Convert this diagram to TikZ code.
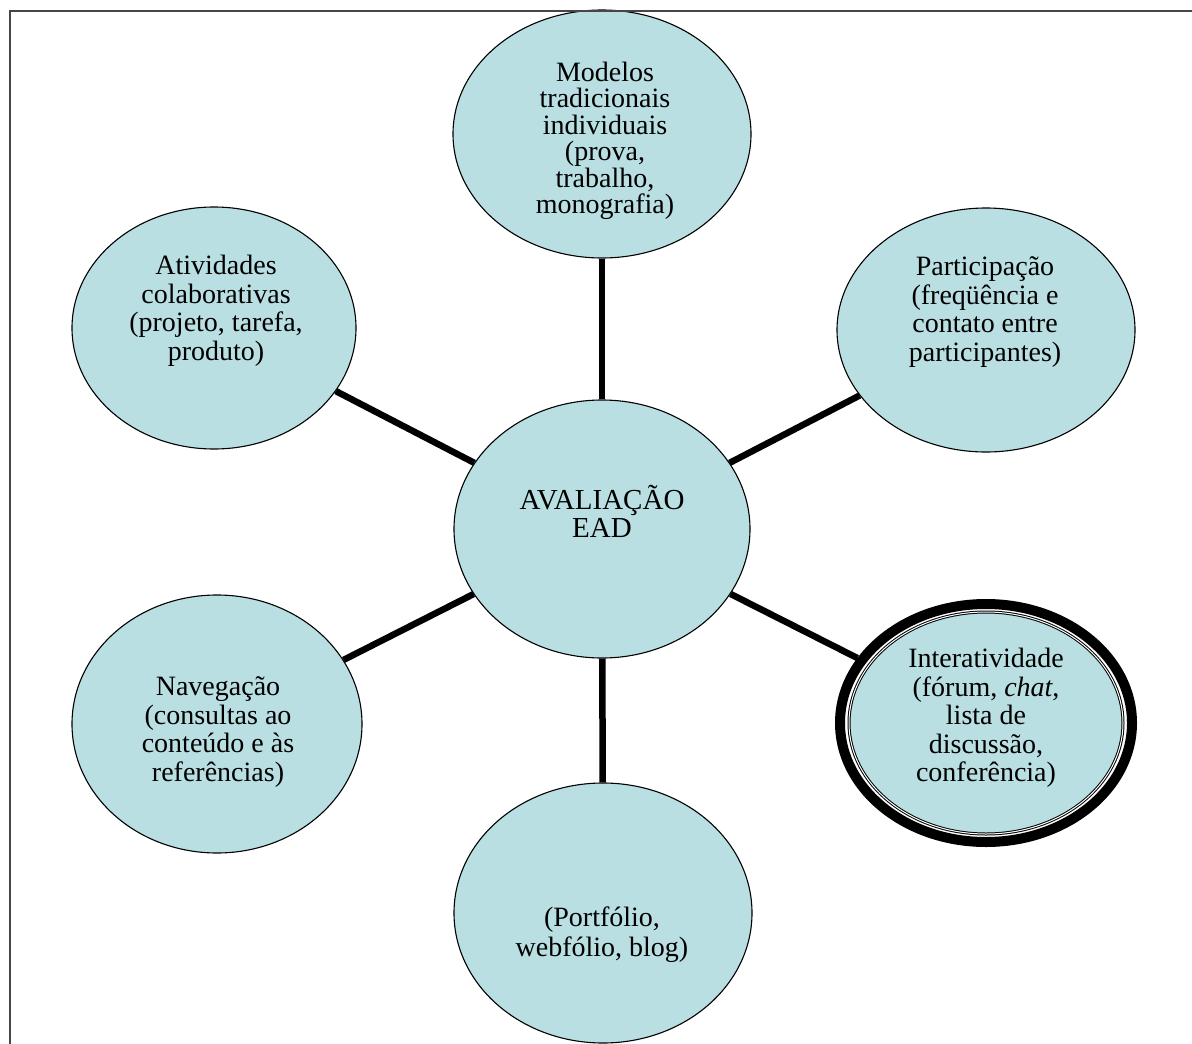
\documentclass[tikz,border=0pt]{standalone}
\usepackage{fontspec}
\setmainfont{Liberation Serif}
\usetikzlibrary{shapes.geometric,backgrounds}
\definecolor{bubfill}{RGB}{185,223,227}
\definecolor{framecol}{RGB}{70,70,70}
\tikzset{
  bub/.style={ellipse, draw=black, line width=1.1pt, fill=bubfill, inner sep=0pt},
  lbl/.style={align=center, font=\fontsize{28}{28.5}\selectfont, inner sep=0pt},
  link/.style={line width=6.5pt, black},
}
\begin{document}
\begin{tikzpicture}[x=1pt,y=-1pt]
\useasboundingbox (0,0) rectangle (1192,1044);
\clip (0,0) rectangle (1192,1044);
% bubbles
\node[bub, minimum width=298pt, minimum height=248pt] (top) at (602,134) {};
\node[bub, minimum width=284pt, minimum height=242pt] (tl) at (214,328) {};
\node[bub, minimum width=298pt, minimum height=244pt] (tr) at (986,330) {};
\node[bub, minimum width=296pt, minimum height=258pt] (ctr) at (602,529) {};
\node[bub, minimum width=290pt, minimum height=258pt] (bl) at (217,724) {};
\node[bub, minimum width=298pt, minimum height=260pt] (bot) at (603,913) {};
% special bubble with thick compound border
\node[ellipse, draw=black, line width=10pt, fill=white, inner sep=0pt,
      minimum width=292pt, minimum height=238pt] (br) at (986,723) {};
\node[ellipse, draw=black, line width=1pt, double=white, double distance=1pt,
      fill=bubfill, inner sep=0pt,
      minimum width=274pt, minimum height=222pt] (brin) at (986,723) {};
% connectors
\begin{pgfonlayer}{background}
\draw[link] (ctr) -- (top);
\draw[link] (ctr) -- (tl);
\draw[link] (ctr) -- (tr);
\draw[link] (ctr) -- (bl);
\draw[link] (ctr) -- (br);
\draw[link] (ctr) -- (bot);
\end{pgfonlayer}
% labels
\node[lbl, font=\fontsize{28}{26.5}\selectfont] (ttop) at (605,141)
  {Modelos\\tradicionais\\individuais\\(prova,\\trabalho,\\monografia)};
\node[lbl] (ttl) at (216,311) {Atividades\\colaborativas\\(projeto, tarefa,\\produto)};
\node[lbl] (ttr) at (985,312) {Participação\\(freqüência e\\contato entre\\participantes)};
\node[lbl, font=\fontsize{29}{28}\selectfont] (tctr) at (602,511) {AVALIAÇÃO\\EAD};
\node[lbl] (tbl) at (218,732) {Navegação\\(consultas ao\\conteúdo e às\\referências)};
\node[lbl] (tbr) at (986,718) {Interatividade\\(fórum, \textit{chat},\\lista de\\discussão,\\conferência)};
\node[lbl, font=\fontsize{28}{30}\selectfont] (tbot) at (602,935) {(Portfólio,\\webfólio, blog)};
% frame
\draw[framecol, line width=2pt] (10,1060) -- (10,11) -- (1210,11);
\end{tikzpicture}
\end{document}
